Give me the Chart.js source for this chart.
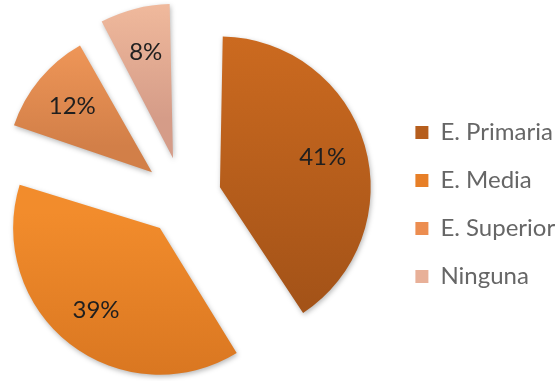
<!DOCTYPE html>
<html>
<head>
<meta charset="utf-8">
<script src="https://cdn.jsdelivr.net/npm/chart.js@4.4.1/dist/chart.umd.min.js"></script>
<style>
  html, body { margin: 0; padding: 0; background: #fff; overflow: hidden; }
  #pie { display: block; margin-left: -25px; }
</style>
</head>
<body>
<canvas id="pie" width="600" height="381"></canvas>
<script>
const categories = ['E. Primaria', 'E. Media', 'E. Superior', 'Ninguna'];
const percentages = [41, 39, 12, 8];

// vertical gradient of every slice (top -> bottom) and flat legend swatches
const topColors = ['#CD6B20', '#F28C2C', '#F69C5C', '#F9C3A3'];
const bottomColors = ['#A45318', '#D5731F', '#D27F48', '#D59C88'];
const legendColors = ['#B65E1D', '#E77F27', '#EC8D50', '#E8B098'];

const baseRadius = 133;
const explode = [153, 152, 162, 164]; // chart.js moves a slice by offset / 4

const legendFont = { family: 'Lato', size: 24 };
const legendPad = 24;

// canvas is shifted 25px left of the page, so the pie centre sits at page x 183
const shiftX = 25;
const pieCenterX = 183.2 + shiftX;

// where a slice ends up (same maths the arc element uses)
let sliceGeom = (chart, i) => {
    const a = chart.chartArea;
    const cx = (a.left + a.right) / 2, cy = (a.top + a.bottom) / 2;
    const total = percentages.reduce((s, v) => s + v, 0);
    let start = -Math.PI / 2;
    for (let k = 0; k < i; k++) start += percentages[k] / total * 2 * Math.PI;
    const circ = percentages[i] / total * 2 * Math.PI;
    const end = start + circ;
    const mid = (start + end) / 2;
    const t = explode[i] / 4;
    const r = baseRadius + t * (1 - Math.sin(Math.min(Math.PI, circ)));
    return { x: cx + Math.cos(mid) * t, y: cy + Math.sin(mid) * t, start, end, r };
}

let sliceGradient = (context) => {
    const chart = context.chart;
    const i = context.dataIndex;
    if (!chart.chartArea) return topColors[i];
    const g = sliceGeom(chart, i);
    let top = g.y, bottom = g.y;
    for (let s = 0; s <= 60; s++) {
        const ang = g.start + (g.end - g.start) * s / 60;
        const yy = g.y + Math.sin(ang) * g.r;
        top = Math.min(top, yy);
        bottom = Math.max(bottom, yy);
    }
    const grad = chart.ctx.createLinearGradient(0, top, 0, bottom);
    grad.addColorStop(0, topColors[i]);
    grad.addColorStop(1, bottomColors[i]);
    return grad;
}

// legend width, so the pie centre and the legend land where they should
let measure = document.createElement('canvas').getContext('2d');
measure.font = `${legendFont.size}px ${legendFont.family}`;
let maxText = Math.max(...categories.map(c => measure.measureText(c).width));
let legendWidth = legendPad + 13 + legendFont.size / 2 + maxText + 10;
let legendLeft = 2 * pieCenterX;

const shadow = {
    id: 'shadow',
    beforeDatasetsDraw(chart) {
        const c = chart.ctx;
        c.save();
        c.shadowColor = 'rgba(0,0,0,0.28)';
        c.shadowBlur = 5;
        c.shadowOffsetX = 1;
        c.shadowOffsetY = 2;
    },
    afterDatasetsDraw(chart) {
        chart.ctx.restore();
    }
};

const pctLabels = {
    id: 'pctLabels',
    afterDatasetsDraw(chart) {
        const c = chart.ctx;
        c.save();
        c.font = '24px Lato';
        c.fillStyle = '#1f1f1f';
        c.textAlign = 'center';
        c.textBaseline = 'middle';
        chart.getDatasetMeta(0).data.forEach((arc, i) => {
            const t = arc.options.offset / 4;
            const r = arc.outerRadius + t * (1 - Math.sin(Math.min(Math.PI, arc.circumference)));
            const mid = (arc.startAngle + arc.endAngle) / 2;
            const d = t + 0.71 * r;
            c.fillText(percentages[i] + '%', arc.x + Math.cos(mid) * d, arc.y + Math.sin(mid) * d);
        });
        c.restore();
    }
};

const config = {
    type: 'pie',
    data: {
        labels: categories,
        datasets: [{
            data: percentages,
            backgroundColor: sliceGradient,
            borderWidth: 0,
            offset: explode,
            radius: baseRadius,
        }]
    },
    options: {
        responsive: false,
        animation: false,
        layout: {
            padding: { left: 0, right: 600 - legendLeft - legendWidth, top: 15, bottom: 0 }
        },
        plugins: {
            tooltip: { enabled: false },
            legend: {
                position: 'right',
                align: 'center',
                title: { display: true, text: '', padding: { top: 3, bottom: 0 }, font: { size: 10, lineHeight: 1 } },
                labels: {
                    font: legendFont,
                    color: '#161616',
                    boxWidth: 13,
                    boxHeight: 13,
                    padding: legendPad,
                    generateLabels: () => categories.map((c, i) => ({
                        text: c,
                        fillStyle: legendColors[i],
                        strokeStyle: legendColors[i],
                        lineWidth: 0,
                        hidden: false,
                        index: i,
                    })),
                }
            }
        }
    },
    plugins: [shadow, pctLabels]
};

const pieChart = new Chart(document.getElementById('pie'), config);
</script>
</body>
</html>
